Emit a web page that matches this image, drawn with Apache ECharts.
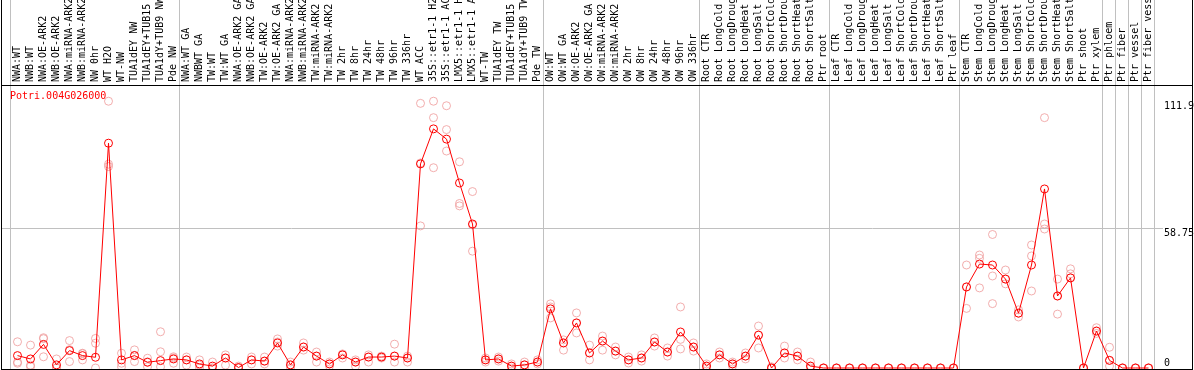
<!DOCTYPE html>
<html><head><meta charset="utf-8">
<script src="https://cdn.jsdelivr.net/npm/echarts@6/dist/echarts.min.js"></script>
<style>html,body{margin:0;padding:0;background:#fff}#c{width:1194px;height:370px}</style>
</head><body><div id="c"></div>
<script>
const geneName = 'Potri.004G026000';
const categories = [
 'NWA:WT','NWB:WT','NWA:OE-ARK2','NWB:OE-ARK2','NWA:miRNA-ARK2','NWB:miRNA-ARK2','NW 0hr','WT H2O','WT-NW','TUA1dEY NW','TUA1dEY+TUB15','TUA1dY+TUB9 NW','Pde NW',
 'NWA:WT GA','NWBWT GA','TW:WT','TW:WT GA','NWA:OE-ARK2 GA','NWB:OE-ARK2 GA','TW:OE-ARK2','TW:OE-ARK2 GA','NWA:miRNA-ARK2','NWB:miRNA-ARK2','TW:miRNA-ARK2','TW:miRNA-ARK2',
 'TW 2hr','TW 8hr','TW 24hr','TW 48hr','TW 96hr','TW 336hr','WT ACC','35S::etr1-1 H2O','35S::etr1-1 ACC','LMX5::etr1-1 H2O','LMX5::etr1-1 ACC','WT-TW','TUA1dEY TW','TUA1dEY+TUB15','TUA1dY+TUB9 TW','Pde TW',
 'OW:WT','OW:WT GA','OW:OE-ARK2','OW:OE-ARK2 GA','OW:miRNA-ARK2','OW:miRNA-ARK2','OW 2hr','OW 8hr','OW 24hr','OW 48hr','OW 96hr','OW 336hr',
 'Root CTR','Root LongCold','Root LongDrought','Root LongHeat','Root LongSalt','Root ShortCold','Root ShortDrought','Root ShortHeat','Root ShortSalt','Ptr root',
 'Leaf CTR','Leaf LongCold','Leaf LongDrought','Leaf LongHeat','Leaf LongSalt','Leaf ShortCold','Leaf ShortDrought','Leaf ShortHeat','Leaf ShortSalt','Ptr leaf',
 'Stem CTR','Stem LongCold','Stem LongDrought','Stem LongHeat','Stem LongSalt','Stem ShortCold','Stem ShortDrought','Stem ShortHeat','Stem ShortSalt','Ptr shoot','Ptr xylem',
 'Ptr phloem','Ptr fiber','Ptr vessel','Ptr fiber vessel'
];
const meanValues = [
 5.2,3.8,9.9,1.3,7.3,5.2,4.5,94.3,3.4,5.2,2.4,3.1,3.8,
 3.4,1.7,0.8,4.2,0.2,3.4,2.9,10.5,1.3,8.8,5.0,1.7,
 5.5,2.5,4.6,4.6,5.0,4.2,85.6,100.3,96,77.6,60.4,3.4,3.8,0.8,1.3,2.5,
 24.8,10.5,18.9,6.3,11.3,7.1,3.4,4.2,10.9,6.7,15.1,8.8,
 0.8,5.5,1.7,5.0,13.8,0,6.3,5.0,0.8,0,
 0,0,0,0,0,0,0,0,0,0,
 34,43.6,43.2,37.3,23,43.2,75.1,30.2,37.8,0,15.5,
 3.2,0,0,0
];
const replicates = [
 [11,2.5,2],[9.6,1.2,0.6],[12.7,12.3,4.7],[3.8,0.1,0],[11.5,7.7,2.7],[6.2,6.0,3.4],[12.4,10.4,0],[111.9,85.5,84.5],[6.2,2.0,0.5],[7.6,5.3,2.7],[4.1,2.6,0.5],[15.2,6.8,0.5],[4.7,4.2,2.0],
 [4.6,3.4,1.2],[3.4,1.2,0],[2.5,0,0],[5.5,4.2,1.2],[0.8,0,0],[4.6,3.4,1.7],[4.6,2.9,1.7],[12.2,10.9,9.2],[2.5,1.3,0],[10.5,8.8,7.5],[6.7,5,2.5],[2.5,1.7,0.8],
 [5.9,5.5,4.2],[3.4,2.5,0.8],[5.5,4.6,2.5],[5.0,4.6,4.2],[10,5.0,2.5],[5.0,4.2,2.5],[111,86,59.6],[111.9,105,84],[110,100,91],[86.5,69,68],[74,60,49],[4.2,3.4,2.5],[4.6,3.8,2.9],[1.7,0.8,0],[2.5,1.3,0],[3.4,2.5,1.7],
 [26.9,25.6,21],[11.8,10.5,7.5],[23.1,18.9,14.7],[9.6,6.3,3.4],[13.4,11.3,7.5],[8.8,7.1,5.5],[4.6,3.4,2.1],[5.5,4.2,2.9],[12.6,10.9,9.2],[8.4,6.7,5],[25.6,12,8],[10.5,8.8,7.1],
 [1.7,0.8,0],[6.7,5.5,4.2],[2.5,1.7,0.8],[6.3,5.0,3.8],[17.6,13.8,8.4],[0.5,0,0],[9.2,6.3,4.2],[6.7,5.0,3.4],[2.5,0.8,0],[0,0,0],
 [0,0,0],[0,0,0],[0,0,0],[0,0,0],[0,0,0],[0,0,0],[0,0,0],[0,0,0],[0,0,0],[0,0,0],
 [43.2,34,25],[47.4,46,33.6],[56,38.6,27],[41.1,37.3,35.3],[24.4,23,21.4],[51.6,47,32.3],[105,60.4,58.3],[37.3,30.2,22.6],[41.6,39.5,37.8],[0,0,0],[16.9,15.5,14.5],
 [8.7,3.2,0.8],[0,0,0],[0,0,0],[0,0,0]
];
const yTickValues = [0, 58.75, 111.9];
const yMax = 118.7;
const groupStarts = [0, 13, 41, 53, 63, 73, 84, 85, 86, 87, 88];

const FONT = '"DejaVu Sans Mono", "Liberation Mono", monospace';
const W = 1194, H = 370;
const repPoints = [];
replicates.forEach((arr, i) => arr.forEach(v => repPoints.push([i, v])));

const chart = echarts.init(document.getElementById('c'), null, {renderer: 'canvas'});
const labelStyle = {color: '#000', fontFamily: FONT, fontSize: 10};
chart.setOption({
  animation: false,
  backgroundColor: '#fff',
  title: {text: geneName, left: 10, top: 91, padding: 0, textStyle: {color: '#ff0000', fontFamily: FONT, fontSize: 10, fontWeight: 'normal'}},
  grid: {left: 11, right: 39, top: 85, bottom: 2, containLabel: false, outerBoundsMode: 'none'},
  xAxis: {
    type: 'category', data: categories, position: 'top', boundaryGap: true,
    axisLine: {show: false}, axisTick: {show: false}, splitLine: {show: false},
    axisLabel: Object.assign({interval: 0, rotate: 90, margin: 3, align: 'left', verticalAlign: 'middle', hideOverlap: false}, labelStyle)
  },
  yAxis: [
    {type: 'value', min: 0, max: yMax, position: 'right',
     axisLine: {show: false}, axisTick: {show: false}, splitLine: {show: false},
     axisLabel: Object.assign({customValues: yTickValues.filter(v => v > 0), verticalAlign: 'top', align: 'left', margin: 9,
       formatter: v => String(v)}, labelStyle)},
    {type: 'value', min: 0, max: yMax, position: 'right',
     axisLine: {show: false}, axisTick: {show: false}, splitLine: {show: false},
     axisLabel: Object.assign({customValues: yTickValues.filter(v => v === 0), verticalAlign: 'bottom', align: 'left', margin: 9,
       formatter: v => String(v)}, labelStyle)}
  ],
  series: [
    {type: 'scatter', data: repPoints, symbol: 'circle', symbolSize: 8, z: 2,
     itemStyle: {color: 'rgba(0,0,0,0)', borderColor: '#ef9a9a', borderWidth: 1}, silent: true},
    {type: 'line', data: meanValues, symbol: 'circle', symbolSize: 8, z: 3, clip: false,
     lineStyle: {color: '#ff0000', width: 1},
     itemStyle: {color: 'rgba(0,0,0,0)', borderColor: '#ff0000', borderWidth: 1}, silent: true}
  ]
});

// decorations positioned from the library's scales
const px = i => chart.convertToPixel({xAxisIndex: 0}, i);
const band = px(1) - px(0);
const gfx = [];
groupStarts.forEach(i => {
  const x = Math.round(i === 0 ? px(0) - band / 2 : (i >= categories.length ? px(categories.length - 1) + band / 2 : (px(i - 1) + px(i)) / 2)) - 0.5;
  gfx.push({type: 'line', shape: {x1: x, y1: 0, x2: x, y2: H}, style: {stroke: '#c0c0c0', lineWidth: 1}, z: 0, silent: true});
});
const yMid = Math.round(chart.convertToPixel({yAxisIndex: 0}, yTickValues[1])) + 0.5;
gfx.push({type: 'line', shape: {x1: 1, y1: yMid, x2: 1163, y2: yMid}, style: {stroke: '#c0c0c0', lineWidth: 1}, z: 0, silent: true});
// frame
const frame = '#000';
gfx.push({type: 'line', shape: {x1: 1.5, y1: 0, x2: 1.5, y2: H}, style: {stroke: frame, lineWidth: 1}, z: 10, silent: true});
gfx.push({type: 'line', shape: {x1: 1192.5, y1: 0, x2: 1192.5, y2: H}, style: {stroke: frame, lineWidth: 1}, z: 10, silent: true});
gfx.push({type: 'line', shape: {x1: 1, y1: 85.5, x2: 1193, y2: 85.5}, style: {stroke: frame, lineWidth: 1}, z: 10, silent: true});
gfx.push({type: 'line', shape: {x1: 1, y1: 369.5, x2: 1193, y2: 369.5}, style: {stroke: frame, lineWidth: 1}, z: 10, silent: true});
chart.setOption({graphic: gfx});
</script>
</body></html>
